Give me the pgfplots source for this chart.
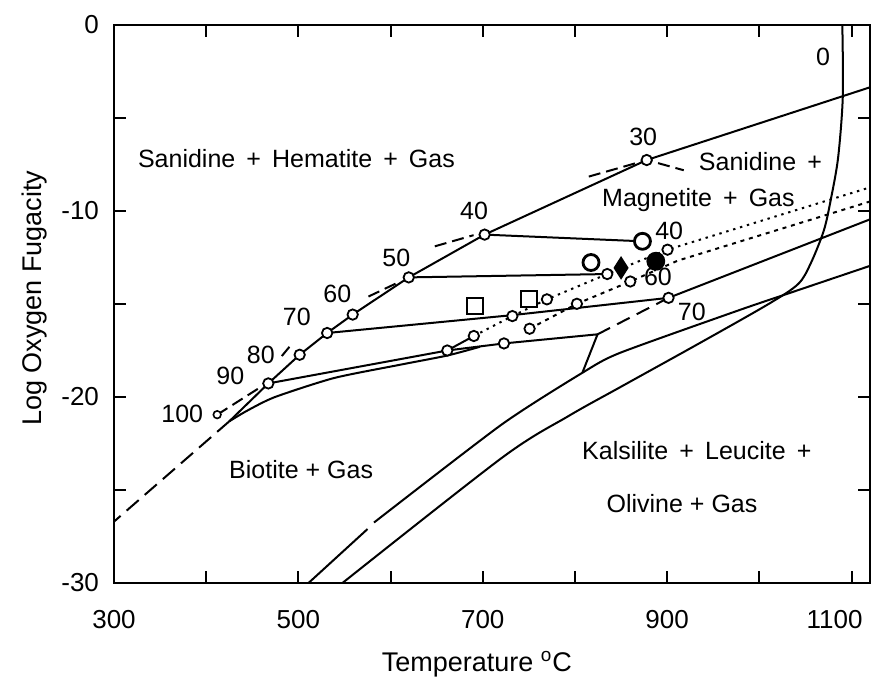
\documentclass[border=0pt]{standalone}
\usepackage{fontspec}
\setmainfont{Liberation Sans}
\usepackage{pgfplots}
\pgfplotsset{compat=1.18}
\newcommand{\lbl}{\fontsize{12.5}{14}\selectfont}
\begin{document}
\begin{tikzpicture}
\useasboundingbox (-57pt,-50pt) rectangle (380pt,291.5pt);
\begin{axis}[
  scale only axis, width=378pt, height=279pt,
  xmin=300, xmax=1120, ymin=-30, ymax=0,
  axis line style={line width=1.2pt},
  tick align=inside, tick pos=both, xticklabel pos=lower, yticklabel pos=left,
  major tick length=6pt, tick style={line width=1pt, black},
  xtick={300,400,...,1100}, xticklabels={300,,500,,700,,900,,\makebox[0pt]{\hspace{-17pt}1100}},
  ytick={-30,-25,...,0}, yticklabels={-30,,-20,,-10,,0},
  ticklabel style={font=\fontsize{13}{15}\selectfont},
  xticklabel style={yshift=-10pt},
  yticklabel style={xshift=-4pt},
  xlabel={Temperature \textsuperscript{o}C}, ylabel={Log Oxygen Fugacity},
  label style={font=\fontsize{13.5}{16}\selectfont},
  xlabel style={at={(axis description cs:0.48,-0.146)}, anchor=center},
  ylabel style={at={(axis description cs:-0.105,0.51)}, anchor=center},
  every axis plot/.append style={black, line width=1pt},
  unbounded coords=jump,
]
% upper boundary curve
\addplot[mark=none] coordinates {(425,-21.31) (467.4,-19.27) (501.4,-17.73) (531.2,-16.56) (558.9,-15.57) (619.7,-13.57) (702,-11.27) (877.8,-7.26) (1120,-3.35)};
% long dashed extension
\addplot[mark=none, dash pattern=on 8pt off 4pt] coordinates {(425,-21.31) (300,-26.7)};
% short dashed pieces near upper curve
\addplot[mark=none, dash pattern=on 6pt off 3pt] coordinates {(412,-20.95) (458,-19.5) (458,nan) (482,-17.8) (492,-17.2) (492,nan) (576,-14.6) (610,-13.8) (610,nan) (648,-11.9) (690,-11.3) (690,nan) (815,-8.15) (878,-7.26) (918,-7.81)};
% isopleth lines
\addplot[mark=none] coordinates {(702,-11.27) (873.2,-11.63)};
\addplot[mark=none] coordinates {(619.7,-13.57) (835,-13.39)};
\addplot[mark=none] coordinates {(531.2,-16.56) (732,-15.6) (901.5,-14.67) (1120,-10.45)};
\addplot[mark=none] coordinates {(467.4,-19.27) (661.5,-17.5) (723,-17.12) (824.5,-16.63) (808,-18.7)};
\addplot[mark=none, dash pattern=on 7pt off 4pt] coordinates {(824.5,-16.63) (901.5,-14.67)};
\addplot[mark=none, smooth, tension=0.4] coordinates {(425,-21.31) (444.3,-20.74) (474.2,-20.01) (538.7,-18.98) (611,-18.26) (661.6,-17.77) (697,-17.3)};
\addplot[mark=none] coordinates {(661.5,-17.5) (690.3,-16.72)};
% dotted lines
\addplot[mark=none, dash pattern=on 1.2pt off 2.4pt] coordinates {(690.3,-16.72) (732.1,-15.65) (769.6,-14.75) (835,-13.39) (900.4,-12.08) (1120,-8.73)};
\addplot[mark=none, dash pattern=on 2pt off 2.4pt] coordinates {(750.8,-16.33) (802.1,-14.99) (860,-13.79) (911.5,-12.67) (1120,-9.49)};
% long diagonals
\addplot[mark=none, smooth, tension=0.4] coordinates {(511,-30) (575,-27.1)};
\addplot[mark=none, smooth, tension=0.4] coordinates {(582,-26.75) (720.5,-21.48) (808,-18.7) (848.7,-17.63) (977.6,-15.34) (1038.8,-14.31) (1120,-12.95)};
\addplot[mark=none, smooth, tension=0.5] coordinates {(547.8,-30) (721.3,-23.25) (792.8,-21.03) (849.5,-19.46) (935,-17.11) (1010,-15.0) (1042,-13.93) (1055.5,-12.84) (1070,-11.04) (1078,-9.26) (1085.5,-7.1) (1090.5,-3.86) (1090,0)};
% markers
\addplot[only marks, mark=*, mark size=2.6pt, mark options={fill=white, draw=black, line width=0.9pt}] coordinates {
 (467.4,-19.27) (501.4,-17.73) (531.2,-16.56) (558.9,-15.57) (619.7,-13.57) (702,-11.27) (877.8,-7.26)
 (661.5,-17.5) (690.3,-16.72) (723,-17.12) (732.1,-15.65) (750.8,-16.33) (769.6,-14.75) (802.1,-14.99)
 (835,-13.39) (860,-13.79) (900.4,-12.08) (901.5,-14.67)};
\addplot[only marks, mark=*, mark size=1.9pt, mark options={fill=white, draw=black, line width=0.8pt}] coordinates {(411.9,-20.95)};
\addplot[only marks, mark=*, mark size=4pt, mark options={fill=white, draw=black, line width=1.4pt}] coordinates {(817.4,-12.77) (873.2,-11.63)};
\addplot[only marks, mark=square*, mark size=4pt, mark options={fill=white, draw=black, line width=1pt}] coordinates {(691.8,-15.1) (750.1,-14.72)};
\addplot[only marks, mark=diamond*, mark size=5pt, mark options={fill=black, xscale=0.85}] coordinates {(850,-13.06)};
\addplot[only marks, mark=*, mark size=4.2pt, mark options={fill=black}] coordinates {(887.7,-12.7)};
% number labels
\node[font=\lbl] at (axis cs:374,-20.93) {100};
\node[font=\lbl] at (axis cs:426.1,-18.88) {90};
\node[font=\lbl] at (axis cs:459.2,-17.72) {80};
\node[font=\lbl] at (axis cs:498.3,-15.69) {70};
\node[font=\lbl] at (axis cs:542.2,-14.46) {60};
\node[font=\lbl] at (axis cs:606.3,-12.5) {50};
\node[font=\lbl] at (axis cs:690.6,-9.99) {40};
\node[font=\lbl] at (axis cs:874,-6.03) {30};
\node[font=\lbl] at (axis cs:902.2,-11.06) {40};
\node[font=\lbl] at (axis cs:890,-13.56) {60};
\node[font=\lbl] at (axis cs:926.8,-15.4) {70};
\node[font=\lbl] at (axis cs:1069,-1.73) {0};
% region labels
\node[font=\lbl] at (axis cs:497.9,-7.18) {Sanidine \,+\, Hematite \,+\, Gas};
\node[font=\lbl] at (axis cs:1001.2,-7.35) {Sanidine \,+};
\node[font=\lbl] at (axis cs:933.9,-9.42) {Magnetite \,+\, Gas};
\node[font=\lbl] at (axis cs:503,-23.91) {Biotite + Gas};
\node[font=\lbl] at (axis cs:932.2,-22.87) {Kalsilite \,+\, Leucite \,+};
\node[font=\lbl] at (axis cs:916.1,-25.74) {Olivine + Gas};
\end{axis}
\end{tikzpicture}
\end{document}
